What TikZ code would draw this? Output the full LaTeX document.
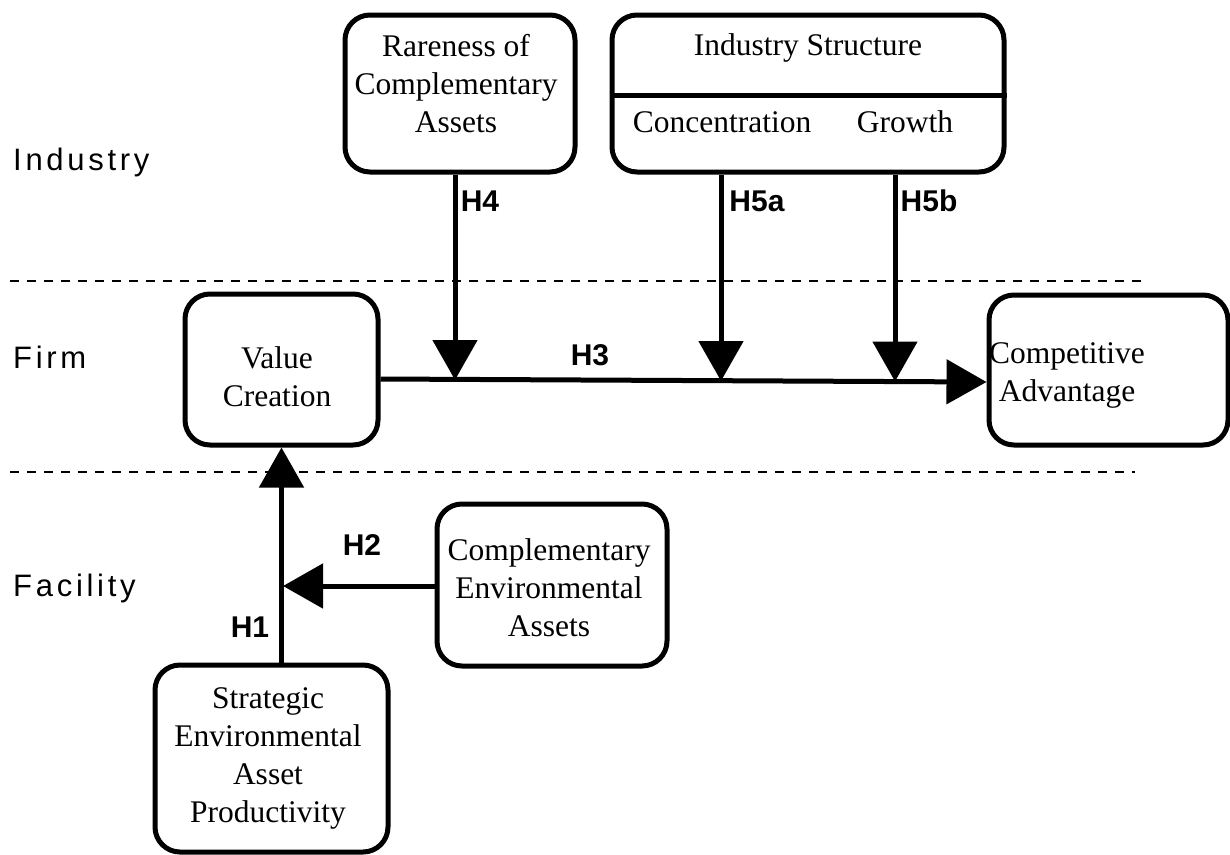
\documentclass[tikz,border=0pt]{standalone}
\usepackage{fontspec}
\setmainfont{Liberation Serif}
\newfontfamily\lblfont[LetterSpace=12]{Liberation Sans}
\newfontfamily\hfont{Liberation Sans}
\usetikzlibrary{arrows.meta}
\begin{document}
\begin{tikzpicture}[x=1pt,y=-1pt,
  box/.style={draw, line width=5pt, rounded corners=25pt, inner sep=0pt},
  boxtext/.style={font=\fontsize{31.5}{38}\selectfont, align=center, inner sep=0pt},
  level/.style={font=\lblfont\fontsize{31}{36}\selectfont, anchor=west, inner sep=0pt},
  hyp/.style={font=\hfont\bfseries\fontsize{30}{36}\selectfont, inner sep=0pt},
  conn/.style={line width=5pt, -{Triangle[length=40pt,width=44pt]}},
  sep/.style={line width=2pt, dash pattern=on 9pt off 8pt}]
\useasboundingbox (0,0) rectangle (1230,854);

% level labels
\node[level] (lind) at (13,162) {Industry};
\node[level] (lfirm) at (13,357) {Firm};
\node[level] (lfac) at (13,588) {Facility};

% separators
\draw[sep] (10,281) -- (1145,281);
\draw[sep] (10,472) -- (1135,472);

% boxes
\node[box, minimum width=230, minimum height=157] (rare) at (460,93.5) {};
\node[boxtext] (raret) at (456,84) {Rareness of\\Complementary\\Assets};

\node[box, minimum width=392, minimum height=157] (is) at (808,93.5) {};
\draw[line width=5pt] (is.west |- 0,95) -- (is.east |- 0,95);
\node[boxtext] (ist) at (808,48) {Industry Structure};
\node[boxtext] (conc) at (722,122) {Concentration};
\node[boxtext] (grow) at (905,122) {Growth};

\node[box, minimum width=193, minimum height=151] (vc) at (281.5,369.5) {};
\node[boxtext] (vct) at (277,377) {Value\\Creation};

\node[box, minimum width=239, minimum height=150] (ca) at (1108.5,370) {};
\node[boxtext] (cat) at (1067,375) {Competitive\\Advantage};

\node[box, minimum width=230, minimum height=162] (cea) at (552,585) {};
\node[boxtext] (ceat) at (549,588) {Complementary\\Environmental\\Assets};

\node[box, minimum width=233, minimum height=187] (str) at (271.5,758.5) {};
\node[boxtext] (strt) at (268,758) {Strategic\\Environmental\\Asset\\Productivity};

% junctions
\coordinate (j4) at (455,380);
\coordinate (j5a) at (721,381);
\coordinate (j5b) at (895,381.5);
\coordinate (j2) at (283,586);

% connectors
\draw[conn] ([yshift=-9.5pt]vc.east) -- ([yshift=-12pt]ca.west);
\draw[conn] (rare.south -| j4) -- (j4);
\draw[conn] (is.south -| j5a) -- (j5a);
\draw[conn] (is.south -| j5b) -- (j5b);
\draw[conn] (str.north -| vc.south) -- (vc.south);
\draw[conn] (cea.west |- j2) -- (j2);

% hypothesis labels
\node[hyp] (h4) at (480,201) {H4};
\node[hyp] (h5a) at (757,201) {H5a};
\node[hyp] (h5b) at (929,201) {H5b};
\node[hyp] (h3) at (590,355) {H3};
\node[hyp] (h2) at (362,545) {H2};
\node[hyp] (h1) at (250,627) {H1};
\end{tikzpicture}
\end{document}
